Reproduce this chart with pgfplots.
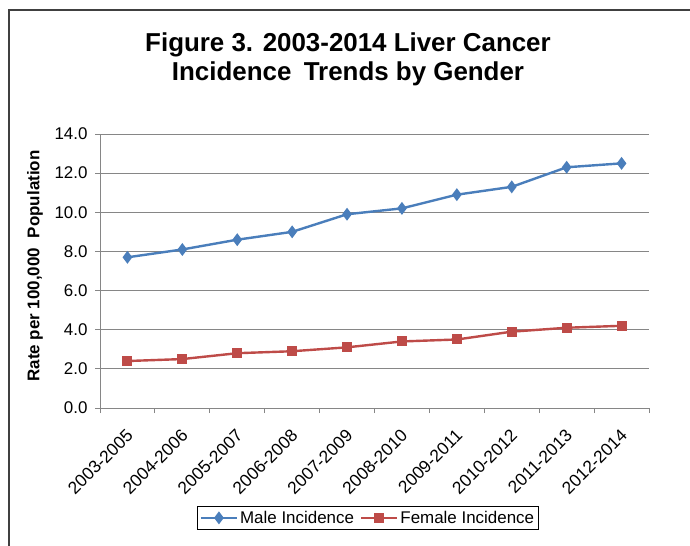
\documentclass[border=0pt]{standalone}
\usepackage{pgfplots}
\pgfplotsset{compat=1.18}
\usepackage{fontspec}
\setmainfont{Liberation Sans}
\definecolor{maleblue}{HTML}{4A7EBB}
\definecolor{femred}{HTML}{BE4B48}
\definecolor{gridgray}{HTML}{868686}
\begin{document}
\begin{tikzpicture}
\path[use as bounding box] (0bp,0bp) rectangle (690bp,546bp);
\draw[line width=1.8bp, black!75] (9bp,0bp) -- (9bp,536bp) -- (690bp,536bp);
\node[font=\bfseries\fontsize{26}{30}\selectfont, anchor=base] at (348bp,494bp) {Figure 3. 2003-2014 Liver Cancer};
\node[font=\bfseries\fontsize{26}{30}\selectfont, anchor=base] at (348bp,465bp) {Incidence\hspace{0.2em} Trends by Gender};
\node[font=\bfseries\fontsize{17}{17}\selectfont, rotate=90] at (35bp,280bp) {Rate per 100,000\hspace{0.3em} Population};
\begin{axis}[
  at={(100bp,138bp)}, anchor=south west,
  scale only axis, width=549bp, height=274bp,
  xmin=-0.5, xmax=9.5, ymin=0, ymax=14,
  axis x line*=bottom, axis y line*=left,
  axis line style={gridgray, line width=0.9bp, -},
  ytick={0,2,4,6,8,10,12,14},
  ymajorgrids, grid style={gridgray, line width=0.9bp},
  xtick={-0.5,0.5,1.5,2.5,3.5,4.5,5.5,6.5,7.5,8.5,9.5}, xticklabels={},
  extra x ticks={0,1,2,3,4,5,6,7,8,9},
  extra x tick labels={2003-2005,2004-2006,2005-2007,2006-2008,2007-2009,2008-2010,2009-2011,2010-2012,2011-2013,2012-2014},
  extra x tick style={tick style={draw=none}, xticklabel style={xshift=-2bp, yshift=-10bp, rotate=45, anchor=north east, font=\fontsize{17.5}{17.5}\selectfont}},
  tick align=outside, major tick length=5bp, tick style={gridgray, line width=0.9bp},
  /pgf/number format/assume math mode=true,
  yticklabel style={font=\fontsize{17}{17}\selectfont, xshift=-4bp, /pgf/number format/.cd, fixed, fixed zerofill, precision=1},
  legend style={at={(0.488,-0.401)}, anchor=center, legend columns=2, draw=black, line width=0.8bp,
    font=\fontsize{17}{17}\selectfont, inner xsep=2bp, inner ysep=3bp,
    /tikz/every even column/.append style={column sep=4bp}},
  legend image code/.code={\draw[mark repeat=2,mark phase=2] plot coordinates {(0bp,0bp) (18bp,0bp) (36bp,0bp)};},
]
\addplot[maleblue, line width=2.4bp, mark=diamond*, mark size=4.5bp, mark options={solid, fill=maleblue}]
  coordinates {(0,7.7) (1,8.1) (2,8.6) (3,9.0) (4,9.9) (5,10.2) (6,10.9) (7,11.3) (8,12.3) (9,12.5)};
\addlegendentry{Male Incidence}
\addplot[femred, line width=2.4bp, mark=square*, mark size=3.8bp, mark options={solid, fill=femred}]
  coordinates {(0,2.4) (1,2.5) (2,2.8) (3,2.9) (4,3.1) (5,3.4) (6,3.5) (7,3.9) (8,4.1) (9,4.2)};
\addlegendentry{Female Incidence}
\end{axis}
\end{tikzpicture}
\end{document}
